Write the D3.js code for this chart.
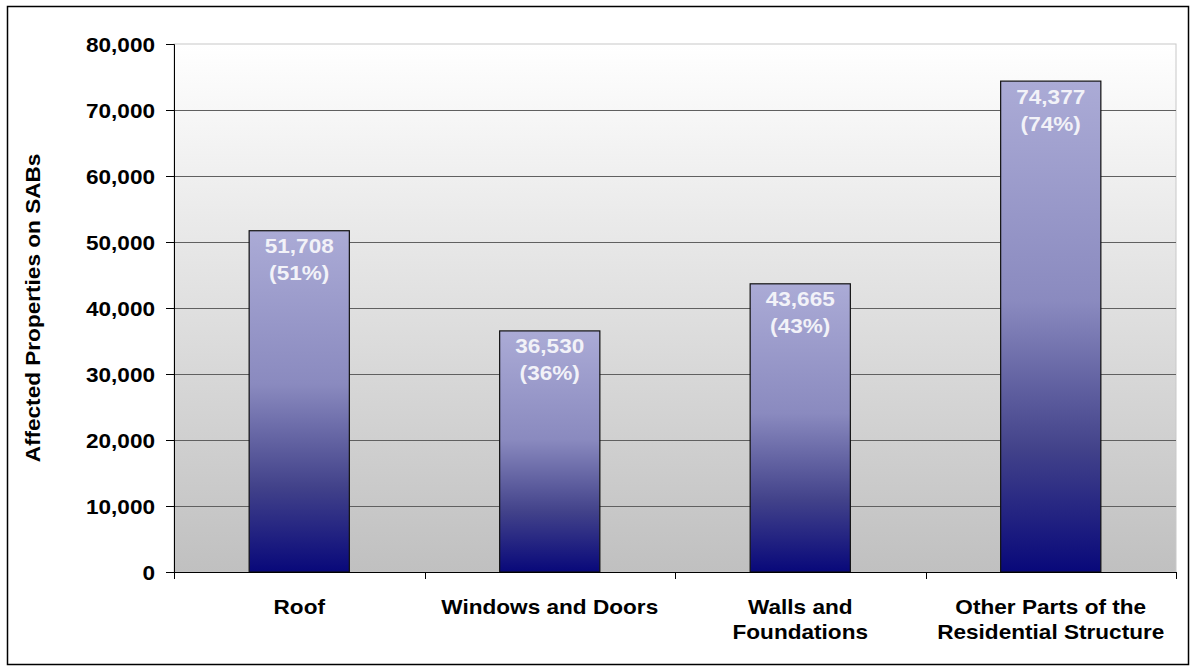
<!DOCTYPE html>
<html><head><meta charset="utf-8">
<script src="https://cdn.jsdelivr.net/npm/d3@7"></script>
<style>body{margin:0;background:#fff}svg{display:block}text{font-family:"Liberation Sans",Arial,sans-serif;font-weight:bold}</style>
</head><body>
<svg id="c" width="1196" height="670"></svg>
<script>
const categories = [["Roof"], ["Windows and Doors"], ["Walls and", "Foundations"], ["Other Parts of the", "Residential Structure"]];
const values = [51708, 36530, 43665, 74377];
const percents = ["51%", "36%", "43%", "74%"];
const yTicks = [0, 10000, 20000, 30000, 40000, 50000, 60000, 70000, 80000];
const yTitle = "Affected Properties on SABs";

const FS = 20, SX = 1.13;
const svg = d3.select("#c");
const m = {l:174, r:1176, t:44, b:572};
const defs = svg.append("defs");
const bg = defs.append("linearGradient").attr("id","bg").attr("x1",0).attr("y1",0).attr("x2",0).attr("y2",1);
bg.append("stop").attr("offset",0).attr("stop-color","#ffffff");
bg.append("stop").attr("offset",1).attr("stop-color","#c0c0c0");
const bar = defs.append("linearGradient").attr("id","bar").attr("x1",0).attr("y1",0).attr("x2",0).attr("y2",1);
[[0,"#ababd6"],[0.45,"#8a8abf"],[0.75,"#42428a"],[1,"#08087a"]].forEach(s=>bar.append("stop").attr("offset",s[0]).attr("stop-color",s[1]));

svg.append("rect").attr("x",7.5).attr("y",6.5).attr("width",1181).attr("height",658).attr("fill","#fff").attr("stroke","#000").attr("stroke-width",1.5);

const x = d3.scaleBand().domain(d3.range(categories.length)).range([m.l,m.r]).paddingInner(0.6).paddingOuter(0.3);
const y = d3.scaleLinear().domain([0,80000]).range([m.b,m.t]);

function label(parent, px, py, lines, opts) {
  const g = parent.append("g").attr("transform",`translate(${px},${py}) scale(${opts.sx||SX},1)`);
  const t = g.append("text").attr("text-anchor",opts.anchor||"middle").attr("font-size",FS).attr("fill",opts.fill||"#000");
  lines.forEach((s,k)=>t.append("tspan").attr("x",0).attr("dy",k?(opts.lh||25):0).text(s));
  return g;
}

svg.append("rect").attr("x",m.l).attr("y",m.t).attr("width",m.r-m.l).attr("height",m.b-m.t).attr("fill","url(#bg)").attr("stroke","#c8c8c8");

svg.append("g").selectAll("line").data(yTicks.filter(d=>d>0&&d<80000)).join("line")
  .attr("x1",m.l).attr("x2",m.r).attr("y1",d=>Math.round(y(d))+0.5).attr("y2",d=>Math.round(y(d))+0.5)
  .attr("stroke","#606060").attr("stroke-width",1.2);

svg.append("g").selectAll("rect").data(values).join("rect")
  .attr("x",(d,i)=>x(i)).attr("y",d=>y(d)).attr("width",x.bandwidth()).attr("height",d=>y(0)-y(d))
  .attr("fill","url(#bar)").attr("stroke","#111").attr("stroke-width",1.2);

const lg = svg.append("g");
values.forEach((d,i)=>{
  label(lg, x(i)+x.bandwidth()/2, y(d)+22.5, [d3.format(",")(d), "("+percents[i]+")"], {fill:"#f2f2f8", lh:27});
});

const yAxis = d3.axisLeft(y).tickValues(yTicks).tickFormat(d3.format(",")).tickSize(8).tickPadding(10);
const ga = svg.append("g").attr("transform",`translate(${m.l},0)`).call(yAxis);
ga.select(".domain").attr("stroke","#000");
ga.selectAll(".tick line").attr("stroke","#000");
ga.selectAll(".tick text").attr("x",null).attr("dy",null)
  .attr("transform",`translate(-19,7) scale(${SX},1)`)
  .attr("font-size",FS).attr("fill","#000").attr("font-family","Liberation Sans, Arial, sans-serif").attr("font-weight","bold");

const step = (m.r-m.l)/categories.length;
const xg = svg.append("g");
xg.append("line").attr("x1",m.l).attr("x2",m.r).attr("y1",m.b+0.5).attr("y2",m.b+0.5).attr("stroke","#000");
xg.selectAll(".xt").data(d3.range(categories.length+1)).join("line")
  .attr("x1",i=>Math.round(m.l+i*step)+0.5).attr("x2",i=>Math.round(m.l+i*step)+0.5).attr("y1",m.b).attr("y2",m.b+7).attr("stroke","#000");
categories.forEach((c,i)=>label(xg, x(i)+x.bandwidth()/2, 614, c, {lh:25}));

svg.append("g").attr("transform","translate(40,308) rotate(-90)")
  .append("g").attr("transform",`scale(${SX},1)`)
  .append("text").attr("text-anchor","middle").attr("font-size",FS).attr("fill","#000").text(yTitle);
</script>
</body></html>
